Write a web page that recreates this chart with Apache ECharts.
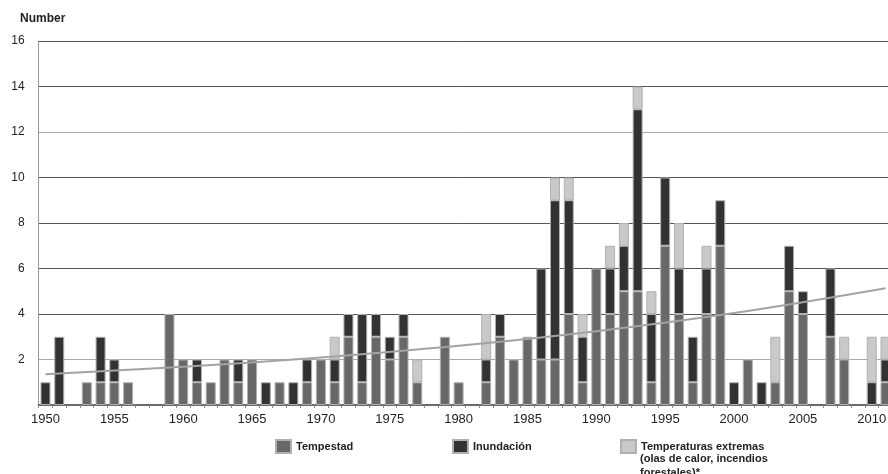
<!DOCTYPE html>
<html>
<head>
<meta charset="utf-8">
<script src="https://cdn.jsdelivr.net/npm/echarts@6/dist/echarts.min.js"></script>
<style>
html,body{margin:0;padding:0;background:#fff;}
#chart{width:888px;height:474px;}
</style>
</head>
<body>
<div id="chart"></div>
<script>
const years = ['1950','1951','1952','1953','1954','1955','1956','1957','1958','1959',
'1960','1961','1962','1963','1964','1965','1966','1967','1968','1969',
'1970','1971','1972','1973','1974','1975','1976','1977','1978','1979',
'1980','1981','1982','1983','1984','1985','1986','1987','1988','1989',
'1990','1991','1992','1993','1994','1995','1996','1997','1998','1999',
'2000','2001','2002','2003','2004','2005','2006','2007','2008','2009',
'2010','2011'];

const tempestad = [0,0,0,1,1,1,1,0,0,4,
2,1,1,2,1,2,0,1,0,1,
2,1,3,1,3,2,3,1,0,3,
1,0,1,3,2,3,2,2,4,1,
6,4,5,5,1,7,4,1,4,7,
0,2,0,1,5,4,0,3,2,0,
0,1];

const inundacion = [1,3,0,0,2,1,0,0,0,0,
0,1,0,0,1,0,1,0,1,1,
0,1,1,3,1,1,1,0,0,0,
0,0,1,1,0,0,4,7,5,2,
0,2,2,8,3,3,2,2,2,2,
1,0,1,0,2,1,0,3,0,0,
1,1];

const temperaturas = [0,0,0,0,0,0,0,0,0,0,
0,0,0,0,0,0,0,0,0,0,
0,1,0,0,0,0,0,1,0,0,
0,0,2,0,0,0,0,1,1,1,
0,1,1,1,1,0,2,0,1,0,
0,0,0,2,0,0,0,0,1,0,
2,1];

const trendYears = ['1950','1960','1970','1980','1990','2000','2011'];
const trendValues = [1.35,1.68,2.09,2.60,3.24,4.04,5.13];

const yTicks = [0,2,4,6,8,10,12,14,16];

const FONT = 'Liberation Sans, Arial, Helvetica, sans-serif';
const chart = echarts.init(document.getElementById('chart'), null, {renderer:'canvas'});

const nz = arr => arr.map(v => v === 0 ? null : v);
const barBorder = {borderColor:'#b0b0b0', borderWidth:1};
const legendText = {fontSize:11, fontWeight:'bold', color:'#222', fontFamily:FONT};

const option = {
  animation:false,
  backgroundColor:'#ffffff',
  grid:{left:38.6, right:-4.4, top:41, bottom:69, outerBoundsMode:'none'},
  xAxis:{
    type:'category',
    data:years,
    axisLine:{show:true, lineStyle:{color:'#6a6a6a', width:2}},
    axisTick:{show:true, interval:0, length:3, lineStyle:{color:'#888'}},
    axisLabel:{
      interval:(i, v) => (+v) % 5 === 0,
      margin:8, fontSize:13, color:'#222', fontFamily:FONT
    },
    splitLine:{show:false}
  },
  yAxis:{
    type:'value',
    min:yTicks[0], max:yTicks[yTicks.length-1], interval:2,
    axisLine:{show:true, lineStyle:{color:'#999', width:1}},
    axisTick:{show:false},
    axisLabel:{showMinLabel:false, margin:14, fontSize:12, color:'#222', fontFamily:FONT},
    splitLine:{show:true, lineStyle:{color:['#555','#aaa','#555','#555','#555','#555','#aaa','#555','#555'], width:1}}
  },
  legend:[
    {data:['Tempestad'], left:275, top:439, padding:0, icon:'rect', itemWidth:15, itemHeight:13,
     textStyle:legendText, selectedMode:false},
    {data:['Inundación'], left:452, top:439, padding:0, icon:'rect', itemWidth:15, itemHeight:13,
     textStyle:legendText, selectedMode:false},
    {data:['Temperaturas extremas'], left:620, top:439, padding:0, icon:'rect', itemWidth:15, itemHeight:13,
     textStyle:legendText, selectedMode:false}
  ],
  graphic:[
    {type:'text', left:20, top:13, style:{text:'Number', font:'bold 12px ' + FONT, fill:'#222'}},
    {type:'text', left:640, top:452, style:{text:'(olas de calor, incendios\nforestales)*', font:'bold 11px ' + FONT, fill:'#222', lineHeight:14}}
  ],
  series:[
    {name:'Tempestad', type:'bar', stack:'total', barWidth:10, data:nz(tempestad),
     itemStyle:Object.assign({color:'#686868'}, barBorder)},
    {name:'Inundación', type:'bar', stack:'total', barWidth:10, data:nz(inundacion),
     itemStyle:Object.assign({color:'#323232'}, barBorder)},
    {name:'Temperaturas extremas', type:'bar', stack:'total', barWidth:10, data:nz(temperaturas),
     itemStyle:Object.assign({color:'#c9c9c9'}, barBorder)},
    {name:'Tendencia', type:'line', data:trendYears.map((y,i)=>[y, trendValues[i]]),
     smooth:0.4, symbol:'none', silent:true, z:5,
     lineStyle:{color:'#a3a3a3', width:2}}
  ]
};
chart.setOption(option);
</script>
</body>
</html>
